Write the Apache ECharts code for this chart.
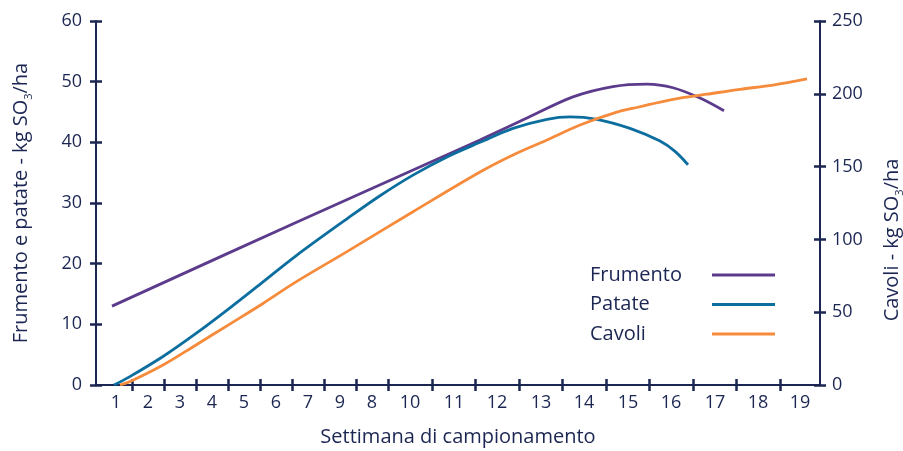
<!DOCTYPE html>
<html>
<head>
<meta charset="utf-8">
<script src="https://cdn.jsdelivr.net/npm/echarts@6/dist/echarts.min.js"></script>
<style>
    html, body { margin: 0; padding: 0; background: #fff; }
    #chart { width: 903px; height: 451px; }
</style>
</head>
<body>
<div id="chart"></div>
<script>
// asse x: distanza lungo l'asse (0 = origine, 724 = asse destro)
const weekLabels = ["1", "2", "3", "4", "5", "6", "7", "9", "8", "10", "11", "12", "13", "14", "15", "16", "17", "18", "19"];
const weekTicks = [36, 68, 100, 132, 164, 196, 228, 260, 292, 336, 379, 423, 466, 510, 553, 597, 640, 684];
const weekCenters = [20, 52, 84, 116, 148, 180, 212, 244, 276, 314, 358, 401, 445, 488, 532, 575, 619, 662, 704];

// kg SO3/ha (asse sinistro)
const frumento = [
    [16, 13.0], [200, 26.8], [384, 40.4], [431, 44.0], [477, 47.5], [517, 49.2],
    [551, 49.6], [577, 49.0], [604, 47.3], [628, 45.2],
];
const patate = [
    [18, 0], [33, 1.3], [67, 4.7], [100, 8.5], [133, 12.6], [167, 17.0], [200, 21.3],
    [251, 27.4], [284, 31.2], [317, 34.6], [351, 37.6], [384, 40.0], [417, 42.3],
    [451, 43.8], [474, 44.2], [501, 43.8], [534, 42.3], [564, 40.2], [579, 38.5], [592, 36.3],
];
// kg SO3/ha (asse destro)
const cavoli = [
    [24, 0], [33, 2.0], [67, 13.7], [100, 27.5], [133, 41.5], [167, 56.0], [200, 70.8],
    [251, 91.6], [317, 119.0], [384, 146.3], [417, 158.0], [451, 168.3], [484, 178.6],
    [517, 186.6], [544, 191.1], [577, 196.2], [611, 199.7], [644, 203.1], [677, 206.0], [711, 210.2],
];

const navy = "#1b2652";
const font = "Open Sans";
const colorPurple = "#5c3b8c";
const colorBlue = "#0b6e9f";
const colorOrange = "#f58b3b";

const tickStyle = { color: navy, width: 2.5 };
const subRich = {
    a: { fontSize: 20, color: navy, fontFamily: font, lineHeight: 26 },
    s: { fontSize: 11, color: navy, fontFamily: font, verticalAlign: "bottom", lineHeight: 14 },
};

const chart = echarts.init(document.getElementById("chart"));

chart.setOption({
    animation: false,
    textStyle: { fontFamily: font },
    grid: { left: 96, right: 83, top: 21, bottom: 66, containLabel: false, outerBoundsMode: "none" },
    legend: {
        data: ["Frumento", "Patate", "Cavoli"],
        orient: "vertical",
        left: 590,
        top: 265,
        padding: 0,
        align: "right",
        icon: "rect",
        itemWidth: 63,
        itemHeight: 3,
        itemGap: 9.5,
        formatter: "{t|{name}}",
        textStyle: {
            fontSize: 20,
            color: navy,
            fontFamily: font,
            rich: { t: { fontSize: 20, color: navy, fontFamily: font, width: 117, align: "left" } },
        },
    },
    xAxis: [
        {
            type: "value",
            min: 0,
            max: 724,
            position: "bottom",
            name: "Settimana di campionamento",
            nameLocation: "middle",
            nameGap: 42,
            nameTextStyle: { fontSize: 20, color: navy, fontFamily: font },
            axisLine: { show: true, lineStyle: { color: navy, width: 2 } },
            axisTick: { show: true, customValues: weekTicks, length: 6, lineStyle: tickStyle },
            axisLabel: {
                customValues: weekCenters,
                formatter: (v) => weekLabels[weekCenters.indexOf(v)],
                fontSize: 18,
                color: navy,
                margin: 9,
            },
            splitLine: { show: false },
        },
        {
            type: "value",
            min: 0,
            max: 724,
            position: "bottom",
            axisLine: { show: false },
            axisTick: { show: true, inside: true, customValues: weekTicks, length: 6, lineStyle: tickStyle },
            axisLabel: { show: false },
            splitLine: { show: false },
        },
    ],
    yAxis: [
        {
            type: "value",
            position: "left",
            min: 0,
            max: 60,
            interval: 10,
            name: "{a|Frumento e patate - kg SO}{s|3}{a|/ha}",
            nameLocation: "middle",
            nameRotate: 90,
            nameGap: 62,
            nameTextStyle: { rich: subRich },
            axisLine: { show: true, lineStyle: { color: navy, width: 2 } },
            axisTick: { show: true, length: 6, lineStyle: tickStyle },
            axisLabel: { fontSize: 18, color: navy, margin: 14 },
            splitLine: { show: false },
        },
        {
            type: "value",
            position: "left",
            min: 0,
            max: 60,
            interval: 10,
            axisLine: { show: false },
            axisTick: { show: true, inside: true, length: 6, lineStyle: tickStyle },
            axisLabel: { show: false },
            splitLine: { show: false },
        },
        {
            type: "value",
            position: "right",
            min: 0,
            max: 250,
            interval: 50,
            name: "{a|Cavoli - kg SO}{s|3}{a|/ha}",
            nameLocation: "middle",
            nameRotate: 90,
            nameGap: 59,
            nameTextStyle: { rich: subRich, padding: [0, 74, 0, 0] },
            axisLine: { show: true, lineStyle: { color: navy, width: 2 } },
            axisTick: { show: true, length: 6, lineStyle: tickStyle },
            axisLabel: { fontSize: 18, color: navy, margin: 12 },
            splitLine: { show: false },
        },
        {
            type: "value",
            position: "right",
            min: 0,
            max: 250,
            interval: 50,
            axisLine: { show: false },
            axisTick: { show: true, inside: true, length: 6, lineStyle: tickStyle },
            axisLabel: { show: false },
            splitLine: { show: false },
        },
    ],
    series: [
        {
            name: "Frumento",
            type: "line",
            xAxisIndex: 0,
            yAxisIndex: 0,
            smooth: 0.35,
            showSymbol: false,
            itemStyle: { color: colorPurple },
            lineStyle: { color: colorPurple, width: 2.8 },
            data: frumento,
        },
        {
            name: "Patate",
            type: "line",
            xAxisIndex: 0,
            yAxisIndex: 0,
            smooth: 0.35,
            showSymbol: false,
            itemStyle: { color: colorBlue },
            lineStyle: { color: colorBlue, width: 2.8 },
            data: patate,
        },
        {
            name: "Cavoli",
            type: "line",
            xAxisIndex: 0,
            yAxisIndex: 2,
            smooth: 0.35,
            showSymbol: false,
            itemStyle: { color: colorOrange },
            lineStyle: { color: colorOrange, width: 2.8 },
            data: cavoli,
        },
    ],
});
</script>
</body>
</html>
